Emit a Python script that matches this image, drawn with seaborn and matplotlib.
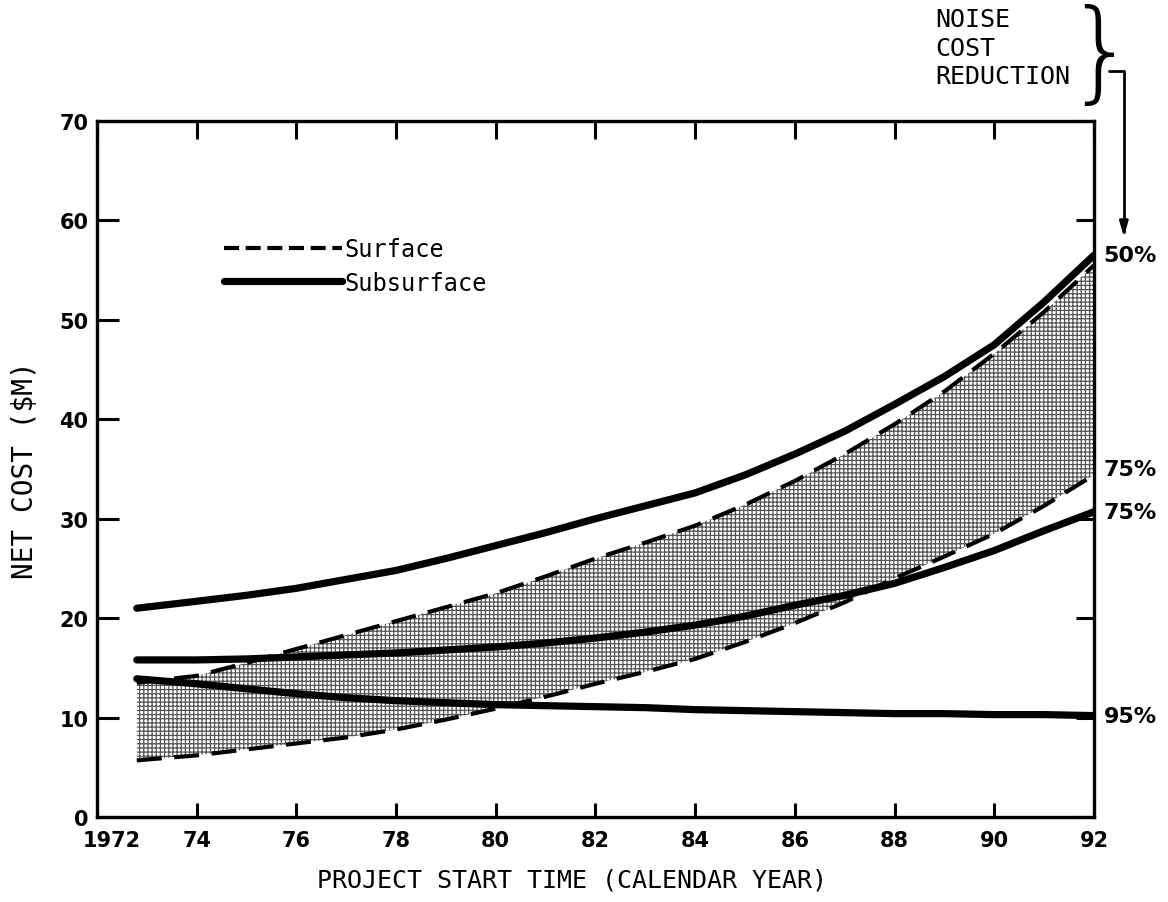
import matplotlib
matplotlib.use('Agg')
import matplotlib.pyplot as plt
import matplotlib.transforms as mtransforms
from matplotlib.lines import Line2D
import seaborn as sns

# ---- data ----
years = [1972.8, 1974, 1975, 1976, 1977, 1978, 1979, 1980, 1981, 1982,
         1983, 1984, 1985, 1986, 1987, 1988, 1989, 1990, 1991, 1992]
surface_50 = [13.5, 14.2, 15.5, 16.9, 18.3, 19.7, 21.1, 22.5, 24.2, 26.0,
              27.6, 29.3, 31.4, 33.8, 36.5, 39.5, 42.8, 46.6, 50.8, 55.5]
surface_75 = [5.7, 6.2, 6.8, 7.4, 8.0, 8.8, 9.8, 10.9, 12.1, 13.4,
              14.6, 15.9, 17.6, 19.5, 21.6, 24.0, 26.2, 28.5, 31.3, 34.4]
subsurface_50 = [21.0, 21.7, 22.3, 23.0, 23.9, 24.8, 26.0, 27.3, 28.6, 30.0,
                 31.3, 32.6, 34.4, 36.5, 38.8, 41.5, 44.3, 47.5, 51.8, 56.5]
subsurface_75 = [15.8, 15.8, 15.9, 16.1, 16.3, 16.5, 16.8, 17.1, 17.5, 18.0,
                 18.6, 19.3, 20.2, 21.3, 22.3, 23.5, 25.1, 26.8, 28.8, 30.7]
subsurface_95 = [13.9, 13.4, 12.9, 12.4, 12.0, 11.7, 11.5, 11.3, 11.2, 11.1,
                 11.0, 10.8, 10.7, 10.6, 10.5, 10.4, 10.4, 10.3, 10.3, 10.2]

x_ticks = [1972, 1974, 1976, 1978, 1980, 1982, 1984, 1986, 1988, 1990, 1992]
x_tick_labels = ['1972', '74', '76', '78', '80', '82', '84', '86', '88', '90', '92']
y_ticks = [0, 10, 20, 30, 40, 50, 60, 70]
legend_labels = ['Surface', 'Subsurface']
end_labels = ['50%', '75%', '75%', '95%']

# ---- style ----
sns.set_style('ticks')
plt.rcParams['font.family'] = ['DejaVu Sans']
plt.rcParams['text.color'] = 'black'
plt.rcParams['axes.labelcolor'] = 'black'
plt.rcParams['hatch.linewidth'] = 0.9
MONO = 'DejaVu Sans Mono'

fig = plt.figure(figsize=(11.68, 9.03), dpi=100)
ax = fig.add_axes([0.083, 0.0941, 0.8536, 0.7708])

# shaded band between the two surface curves
ax.fill_between(years, surface_75, surface_50, facecolor='white',
                edgecolor='#555555', hatch='++++', linewidth=0, zorder=1)

DASH = (0, (6, 3))
sns.lineplot(x=years, y=surface_50, ax=ax, color='black', linewidth=3,
             linestyle=DASH, zorder=3)
sns.lineplot(x=years, y=surface_75, ax=ax, color='black', linewidth=3,
             linestyle=DASH, zorder=3)
for series in (subsurface_50, subsurface_75, subsurface_95):
    sns.lineplot(x=years, y=series, ax=ax, color='black', linewidth=5.2,
                 solid_capstyle='round', zorder=4)

ax.set_xlim(1972, 1992)
ax.set_ylim(0, 70)
ax.set_xticks(x_ticks)
ax.set_xticklabels(x_tick_labels)
ax.set_yticks(y_ticks)

for s in ax.spines.values():
    s.set_linewidth(2.4)
    s.set_color('black')

ax.tick_params(direction='in', width=2.2, top=True, right=True,
               labelsize=15, colors='black')
ax.tick_params(axis='x', pad=9)
ax.tick_params(axis='y', pad=6)
for t in ax.yaxis.get_major_ticks():
    t.tick1line.set_markersize(16)
    t.tick2line.set_markersize(13)
for t in ax.xaxis.get_major_ticks():
    t.tick1line.set_markersize(10)
    t.tick2line.set_markersize(13)
for lab in ax.get_xticklabels() + ax.get_yticklabels():
    lab.set_fontweight('bold')

first = ax.get_xticklabels()[0]
first.set_transform(first.get_transform() +
                    mtransforms.ScaledTranslation(0.15, 0, fig.dpi_scale_trans))

ax.set_xlabel('PROJECT START TIME (CALENDAR YEAR)', family=MONO, fontsize=18)
ax.set_ylabel('NET COST ($M)', family=MONO, fontsize=20)
ax.xaxis.set_label_coords(0.476, -0.072)
ax.yaxis.set_label_coords(-0.058, 0.5)

# legend
handles = [Line2D([], [], color='black', linewidth=3, linestyle=(0, (3.6, 1.6))),
           Line2D([], [], color='black', linewidth=5.2)]
ax.legend(handles, legend_labels, loc='upper left', bbox_to_anchor=(0.127, 0.833),
          frameon=False, prop={'family': MONO, 'size': 17}, handlelength=5.0,
          handletextpad=0.1, labelspacing=0.4, borderpad=0, borderaxespad=0)

# end-of-curve labels
ends = [subsurface_50[-1], surface_75[-1] + 0.6, subsurface_75[-1], subsurface_95[-1]]
for val, lab in zip(ends, end_labels):
    ax.annotate(lab, xy=(years[-1], val), xytext=(7, 0), textcoords='offset points',
                ha='left', va='center', fontsize=16, fontweight='bold',
                annotation_clip=False)

# NOISE COST REDUCTION note with brace and arrow
fig.text(935 / 1168, 1 - 8 / 903, 'NOISE\nCOST\nREDUCTION', ha='left', va='top',
         family=MONO, fontsize=18, linespacing=1.25)
fig.text(1101 / 1168, 1 - 58 / 903, '}', ha='center', va='center',
         fontsize=80, fontweight=200)
ax.annotate('', xy=(1992.6, 58.3), xycoords='data',
            xytext=(1109 / 1168, 1 - 72 / 903), textcoords='figure fraction',
            arrowprops=dict(arrowstyle='-|>,head_length=0.9,head_width=0.25',
                            connectionstyle='angle,angleA=0,angleB=90,rad=0',
                            color='black', lw=2, shrinkA=0, shrinkB=0),
            annotation_clip=False)

fig.savefig('out.png', dpi=100)
